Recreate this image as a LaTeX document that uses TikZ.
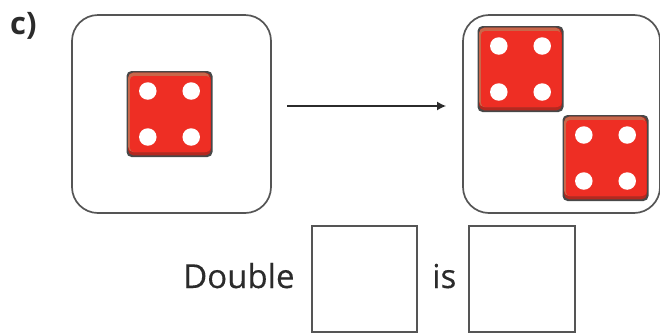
\documentclass[tikz,border=0pt]{standalone}
\usepackage{fontspec}
\setmainfont{Open Sans}
\usetikzlibrary{arrows.meta}
\definecolor{inkc}{HTML}{2B2B2B}
\definecolor{framec}{HTML}{555555}
\definecolor{redc}{HTML}{EE2E24}
\definecolor{edgec}{HTML}{C9674A}
\definecolor{shadec}{HTML}{B5281F}
\tikzset{
  x=1pt,y=-1pt,
  frame/.style={draw=framec,line width=1.7pt,rounded corners=26pt,fill=white},
  answer/.style={draw=framec,line width=1.8pt,fill=white},
  dielayer/.style={rounded corners=5pt},
  pip/.style={circle,fill=white,minimum size=17.5pt,inner sep=0pt,draw=none},
  wordtext/.style={text=inkc,font=\addfontfeature{FakeBold=0.25}\fontsize{33}{36}\selectfont,inner sep=0pt},
  tagtext/.style={text=inkc,font=\bfseries\fontsize{31}{34}\selectfont,inner sep=0pt},
  joinline/.style={draw=inkc,line width=1.3pt,-{Latex[length=9pt,width=9pt]}},
  pics/die/.style={code={
    \fill[dielayer,fill=framec!85!black] (-43,-43) rectangle (43,43);
    \fill[dielayer,fill=shadec] (-41.3,-41.3) rectangle (41.3,41.3);
    \fill[dielayer,fill=edgec] (-41.3,-41.3) rectangle (40,38);
    \fill[rounded corners=4pt,fill=redc] (-39.5,-38) rectangle (41,38);
    \node[pip] (#1a) at (-21.7,-23) {};
    \node[pip] (#1b) at (21.7,-23) {};
    \node[pip] (#1c) at (-21.7,23) {};
    \node[pip] (#1d) at (21.7,23) {};
  }}
}
\begin{document}
\begin{tikzpicture}
\useasboundingbox (0,0) rectangle (660,333);
\fill[white] (0,0) rectangle (660,333);
\draw[frame] (72,15) rectangle (271,213);
\draw[frame] (463,15) rectangle (660,213);
\pic at (169.5,114) {die=p};
\pic at (520.5,69) {die=q};
\pic at (605.5,158) {die=r};
\coordinate (from) at (287,106);
\coordinate (to) at (446,106);
\draw[joinline] (from) -- (to);
\node[tagtext,anchor=base west] (tag) at (10,34) {c)};
\node[answer,minimum width=105pt,minimum height=106pt,inner sep=0pt] (ans1) at (364.5,279) {};
\node[answer,minimum width=106pt,minimum height=106pt,inner sep=0pt] (ans2) at (522,279) {};
\node[wordtext,anchor=base west] (dbl) at (183,288) {Double};
\node[wordtext,anchor=base west] (isw) at (432,288) {is};
\end{tikzpicture}
\end{document}
